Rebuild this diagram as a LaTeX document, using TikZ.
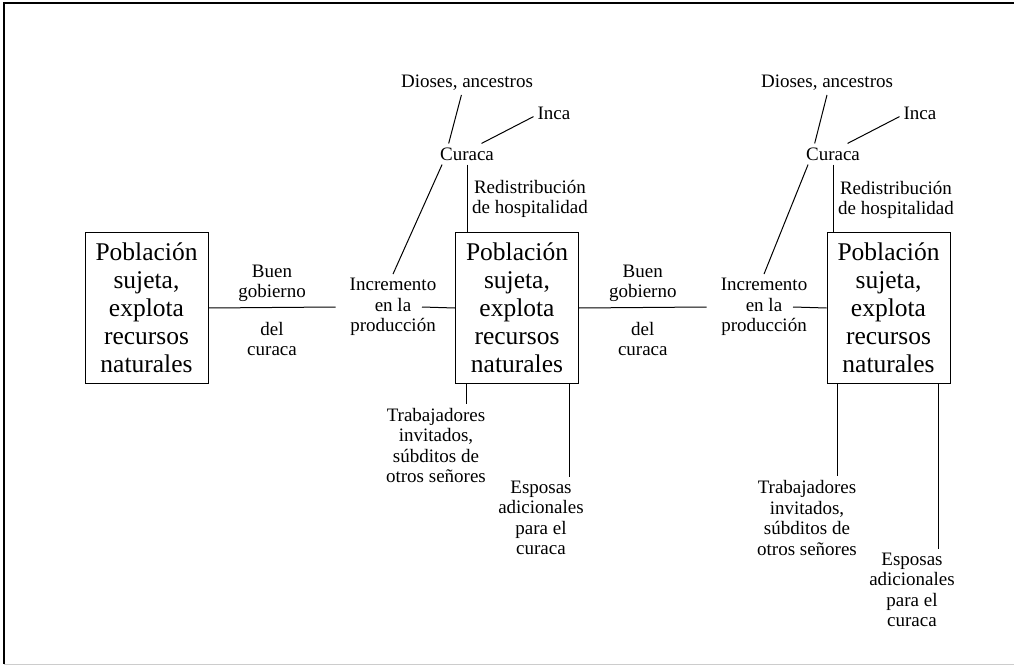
\documentclass[tikz,border=0pt]{standalone}
\usepackage{fontspec}
\setmainfont{Liberation Serif}
\begin{document}
\begin{tikzpicture}[
    x=1pt, y=-1pt,
    % Styles
    pobl/.style={draw, line width=1pt, align=center, minimum width=123pt,
                 minimum height=150pt, inner sep=0pt,
                 font=\fontsize{25.5}{28}\selectfont},            % population boxes
    lbl/.style={align=center, inner sep=4pt,
                font=\fontsize{19}{20.5}\selectfont},             % small labels
    link/.style={line width=1pt}                                  % connecting lines
]

  \useasboundingbox (0,0) rectangle (1014,668);

  % Frame
  \draw[line width=1.2pt] (1014,3) -- (4,3) -- (4,664);
  \draw[gray!40] (4,664) -- (1014,664);

  % Population boxes
  \foreach \n/\x in {1/146.5, 2/517, 3/888.5} {
    \node[pobl] (pob\n) at (\x,308) {Población\\sujeta,\\explota\\recursos\\naturales};
  }

  % First cycle
  \node[lbl] (incr1) at (393,307) {Incremento\\en la\\producción};
  \node[lbl] (cur1)  at (467,154) {Curaca};
  \node[lbl] (dios1) at (467,83)  {Dioses, ancestros};
  \node[lbl] (inca1) at (554,113) {Inca};
  \node[lbl] (red1)  at (530,199) {Redistribución\\de hospitalidad};
  \node[lbl] (trab1) at (436,445.5) {Trabajadores\\invitados,\\súbditos de\\otros señores};
  \node[lbl] (esp1)  at (541,518) {Esposas\\adicionales\\para el\\curaca};

  \draw[link] (pob1.east) -- ([xshift=-10pt]incr1.west)
    node[lbl, midway, above=1pt] (buen1) {Buen\\gobierno}
    node[lbl, midway, below=10pt] (del1) {del\\curaca};
  \draw[link] ([xshift=29pt]incr1.center) -- (pob2.west);
  \draw[link] (cur1.203) -- (incr1.north);
  \draw[link] (cur1.150) -- (dios1.245);
  \draw[link] (cur1.36) -- (inca1.190);
  \draw[link] (cur1.south) -- (cur1.south |- pob2.north);
  \draw[link] ([xshift=11pt]pob2.south west) -- ([xshift=11pt]pob2.south west |- trab1.north);
  \draw[link] ([xshift=-10pt]pob2.south east) -- ([xshift=-10pt]pob2.south east |- esp1.north);

  % Second cycle
  \node[lbl] (incr2) at (764,307) {Incremento\\en la\\producción};
  \node[lbl] (cur2)  at (833,154) {Curaca};
  \node[lbl] (dios2) at (827,83)  {Dioses, ancestros};
  \node[lbl] (inca2) at (920,113) {Inca};
  \node[lbl] (red2)  at (896,200) {Redistribución\\de hospitalidad};
  \node[lbl] (trab2) at (807,518) {Trabajadores\\invitados,\\súbditos de\\otros señores};
  \node[lbl] (esp2)  at (912,590) {Esposas\\adicionales\\para el\\curaca};

  \draw[link] (pob2.east) -- ([xshift=-10pt]incr2.west)
    node[lbl, midway, above=1pt] (buen2) {Buen\\gobierno}
    node[lbl, midway, below=10pt] (del2) {del\\curaca};
  \draw[link] ([xshift=29pt]incr2.center) -- (pob3.west);
  \draw[link] (cur2.203) -- (incr2.north);
  \draw[link] (cur2.150) -- (dios2.south);
  \draw[link] (cur2.36) -- (inca2.190);
  \draw[link] (cur2.south) -- (cur2.south |- pob3.north);
  \draw[link] ([xshift=11pt]pob3.south west) -- ([xshift=11pt]pob3.south west |- trab2.north);
  \draw[link] ([xshift=-12pt]pob3.south east) -- ([xshift=-12pt]pob3.south east |- esp2.north);

\end{tikzpicture}
\end{document}
